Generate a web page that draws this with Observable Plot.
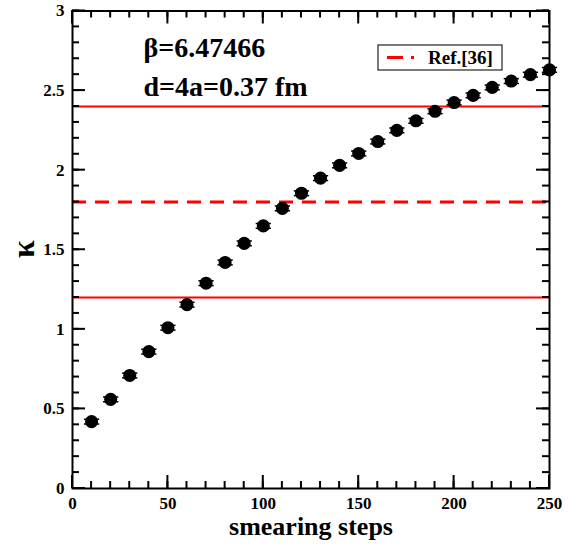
<!DOCTYPE html>
<html>
<head>
<meta charset="utf-8">
<script src="https://cdn.jsdelivr.net/npm/d3@7"></script>
<script src="https://cdn.jsdelivr.net/npm/@observablehq/plot@0.6"></script>
<style>
  html, body { margin: 0; padding: 0; background: #fff; }
  #chart { position: relative; width: 578px; height: 545px; }
</style>
</head>
<body>
<div id="chart"></div>
<script>
const steps = [10,20,30,40,50,60,70,80,90,100,110,120,130,140,150,160,170,180,190,200,210,220,230,240,250];
const kappa = [0.42,0.56,0.71,0.86,1.01,1.155,1.29,1.42,1.54,1.65,1.76,1.855,1.95,2.03,2.105,2.18,2.25,2.31,2.37,2.425,2.47,2.52,2.56,2.60,2.63];
const kappaErr = [0.015,0.015,0.015,0.015,0.015,0.015,0.015,0.015,0.015,0.015,0.015,0.015,0.015,0.015,0.015,0.015,0.015,0.015,0.015,0.015,0.015,0.015,0.015,0.015,0.015];
const refSolid = [1.2, 2.4];
const refDashed = [1.8];
const xMajor = [0,50,100,150,200,250];
const xMinor = d3.range(0, 251, 10);
const yMajor = [0,0.5,1,1.5,2,2.5,3];
const yMinor = d3.range(0, 3.001, 0.1).map(v => +v.toFixed(1));
const annot = ["β=6.47466", "d=4a=0.37 fm"];
const xLabel = "smearing steps";
const yLabel = "κ";
const legendLabel = "Ref.[36]";

const data = steps.map((s, i) => ({x: s, y: kappa[i], e: kappaErr[i]}));
const font = "Liberation Serif, Times New Roman, serif";
const capHalf = 4;

const W = 578, H = 545, mL = 72, mR = 29, mT = 10.5, mB = 57;
const minorLen = 7, majorLen = 13;

const plot = Plot.plot({
  width: W,
  height: H,
  marginLeft: mL,
  marginRight: mR,
  marginTop: mT,
  marginBottom: mB,
  style: {fontFamily: font, fontWeight: "bold", fontSize: "17px", color: "black", background: "white"},
  x: {domain: [0, 250]},
  y: {domain: [0, 3]},
  marks: [
    Plot.ruleY(refSolid, {stroke: "#ff0000", strokeWidth: 2}),
    Plot.ruleY(refDashed, {stroke: "#ff0000", strokeWidth: 3, strokeDasharray: "14,9"}),
    Plot.axisX({ticks: xMajor, tickSize: 0, tickPadding: 8, tickFormat: d => String(d), fontSize: 17, fontWeight: "bold", label: null}),
    Plot.axisY({ticks: yMajor, tickSize: 0, tickPadding: 8, tickFormat: d => String(d), fontSize: 17, fontWeight: "bold", label: null}),
    Plot.text([xLabel], {frameAnchor: "bottom", lineAnchor: "middle", dy: 38, fontSize: 26, fontWeight: "bold", fill: "black"}),
    // error bars
    Plot.ruleX(data, {x: "x", y1: d => d.y - d.e, y2: d => d.y + d.e, stroke: "black", strokeWidth: 1.5}),
    Plot.link(data, {x1: d => d.x - capHalf, x2: d => d.x + capHalf, y1: d => d.y + d.e, y2: d => d.y + d.e, stroke: "black", strokeWidth: 1.5}),
    Plot.link(data, {x1: d => d.x - capHalf, x2: d => d.x + capHalf, y1: d => d.y - d.e, y2: d => d.y - d.e, stroke: "black", strokeWidth: 1.5}),
    Plot.dot(data, {x: "x", y: "y", r: 5.8, fill: "black", stroke: "black"}),
    Plot.text([annot[0]], {frameAnchor: "top-left", lineAnchor: "middle", dx: 71, dy: 37.5, fontSize: 28, fontWeight: "bold", textAnchor: "start", fill: "black"}),
    Plot.text([annot[1]], {frameAnchor: "top-left", lineAnchor: "middle", dx: 71, dy: 76.5, fontSize: 28, fontWeight: "bold", textAnchor: "start", fill: "black"}),
    Plot.frame({stroke: "black", strokeWidth: 2})
  ]
});

const svg = d3.select(plot);
const sx = plot.scale("x"), sy = plot.scale("y");
const [x0, x1] = sx.range;
const [yb, yt] = sy.range;

// inward ticks on all four sides, positioned through Plot's scales
const tg = svg.append("g").attr("stroke", "black").attr("stroke-width", 2);
function xTicks(vals, len) {
  vals.forEach(v => {
    const px = sx.apply(v);
    tg.append("line").attr("x1", px).attr("x2", px).attr("y1", yb).attr("y2", yb - len);
    tg.append("line").attr("x1", px).attr("x2", px).attr("y1", yt).attr("y2", yt + len);
  });
}
function yTicks(vals, len) {
  vals.forEach(v => {
    const py = sy.apply(v);
    tg.append("line").attr("x1", x0).attr("x2", x0 + len).attr("y1", py).attr("y2", py);
    tg.append("line").attr("x1", x1).attr("x2", x1 - len).attr("y1", py).attr("y2", py);
  });
}
xTicks(xMinor, minorLen);
xTicks(xMajor, majorLen);
yTicks(yMinor, minorLen);
yTicks(yMajor, majorLen);

// y axis label kappa
svg.append("text")
  .attr("transform", "translate(34,249) rotate(-90)")
  .attr("text-anchor", "middle")
  .attr("font-family", font)
  .attr("font-weight", "bold")
  .attr("font-size", 32)
  .attr("fill", "black")
  .text(yLabel);

// legend box
const lg = svg.append("g").attr("transform", "translate(378,45)");
lg.append("rect").attr("width", 124).attr("height", 25).attr("fill", "white").attr("stroke", "#222").attr("stroke-width", 1.2);
lg.append("line").attr("x1", 9).attr("x2", 25).attr("y1", 12.5).attr("y2", 12.5).attr("stroke", "#ff0000").attr("stroke-width", 3);
lg.append("line").attr("x1", 33).attr("x2", 36).attr("y1", 12.5).attr("y2", 12.5).attr("stroke", "#ff0000").attr("stroke-width", 3);
lg.append("text").attr("x", 50).attr("y", 19).attr("text-anchor", "start").attr("font-family", font).attr("font-weight", "bold").attr("font-size", 19).attr("fill", "black").text(legendLabel);

document.getElementById("chart").appendChild(plot);
</script>
</body>
</html>
